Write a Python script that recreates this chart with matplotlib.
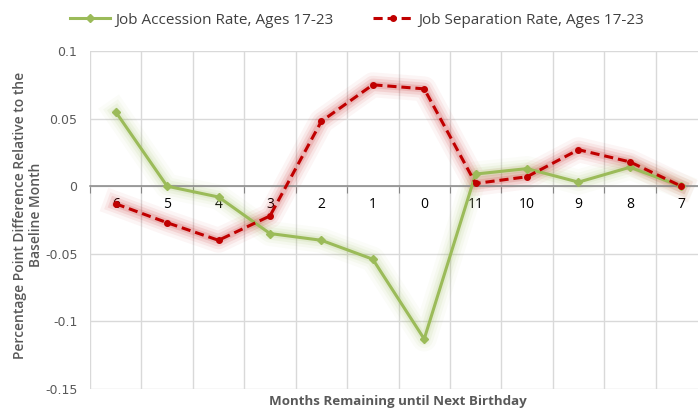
import matplotlib
matplotlib.use("Agg")
from matplotlib import pyplot as plt
import matplotlib.patheffects as pe

months = ["6", "5", "4", "3", "2", "1", "0", "11", "10", "9", "8", "7"]
accession = [0.055, 0.0, -0.008, -0.035, -0.040, -0.054, -0.113, 0.009, 0.013, 0.003, 0.014, 0.0]
separation = [-0.013, -0.027, -0.040, -0.022, 0.048, 0.075, 0.072, 0.002, 0.007, 0.027, 0.018, 0.0]
yticks = [0.1, 0.05, 0.0, -0.05, -0.1, -0.15]
ytick_labels = ["0.1", "0.05", "0", "-0.05", "-0.1", "-0.15"]

GREEN = "#9BBB59"
RED = "#C00000"
TXT = "#595959"

plt.rcParams["font.family"] = ["Open Sans", "DejaVu Sans"]


def glow(color):
    # soft halo only, the line itself is drawn separately
    return [
        pe.Stroke(linewidth=18, foreground=color, alpha=0.04),
        pe.Stroke(linewidth=13, foreground=color, alpha=0.06),
        pe.Stroke(linewidth=9, foreground=color, alpha=0.09),
        pe.Stroke(linewidth=5, foreground=color, alpha=0.12),
    ]


fig = plt.figure(figsize=(6.98, 4.08), dpi=100)
ax = fig.add_axes([90 / 698, 1 - 389 / 408, 617 / 698, 338 / 408])

x = list(range(len(months)))
for vals, col in [(accession, GREEN), (separation, RED)]:
    ax.plot(x, vals, color=col, lw=2, solid_joinstyle="round", path_effects=glow(col), zorder=2)

ax.plot(x, accession, color=GREEN, lw=2.2, marker="D", ms=4, mec=GREEN, mfc=GREEN,
        label="Job Accession Rate, Ages 17-23", zorder=3)
ax.plot(x, separation, color=RED, lw=2.2, ls=(0, (3, 1.6)), marker="o", ms=4, mec=RED, mfc=RED,
        label="Job Separation Rate, Ages 17-23", zorder=4)

ax.set_xlim(-0.5, len(months) - 0.5)
ax.set_ylim(-0.15, 0.1)
ax.set_yticks(yticks)
ax.set_yticklabels(ytick_labels, fontsize=9, color=TXT, family=["DejaVu Sans"])
ax.tick_params(axis="y", length=0, pad=9)

# category boundaries as major ticks, labels at centres
ax.set_xticks([i - 0.5 for i in range(len(months) + 1)])
ax.set_xticklabels([])
ax.set_xticks(x, minor=True)
ax.set_xticklabels(months, minor=True, fontsize=9, color="#404040")
ax.tick_params(axis="x", which="major", length=5, color="#868686", direction="out")
ax.tick_params(axis="x", which="minor", length=0, pad=8)

ax.grid(True, which="major", color="#D9D9D9", lw=1)
ax.set_axisbelow(True)
for s in ["top", "right", "left"]:
    ax.spines[s].set_visible(False)
ax.spines["bottom"].set_position(("data", 0))
ax.spines["bottom"].set_color("#868686")
ax.spines["bottom"].set_linewidth(1.1)

fig.text(398 / 698, 1 - 401 / 408, "Months Remaining until Next Birthday", ha="center", va="center",
         fontsize=9.6, fontweight="bold", color=TXT)
fig.text(28 / 698, 1 - 215 / 408, "Percentage Point Difference Relative to the\nBaseline Month",
         ha="center", va="center", rotation=90, fontsize=10, fontweight="semibold", color=TXT,
         linespacing=1.15)

fig.legend(loc="center", bbox_to_anchor=(357 / 698, 1 - 20 / 408), ncol=2, frameon=False,
           fontsize=11, handlelength=2.6, handletextpad=0.35, columnspacing=2.6,
           labelcolor="#404040")

fig.savefig("out.png", dpi=100)
